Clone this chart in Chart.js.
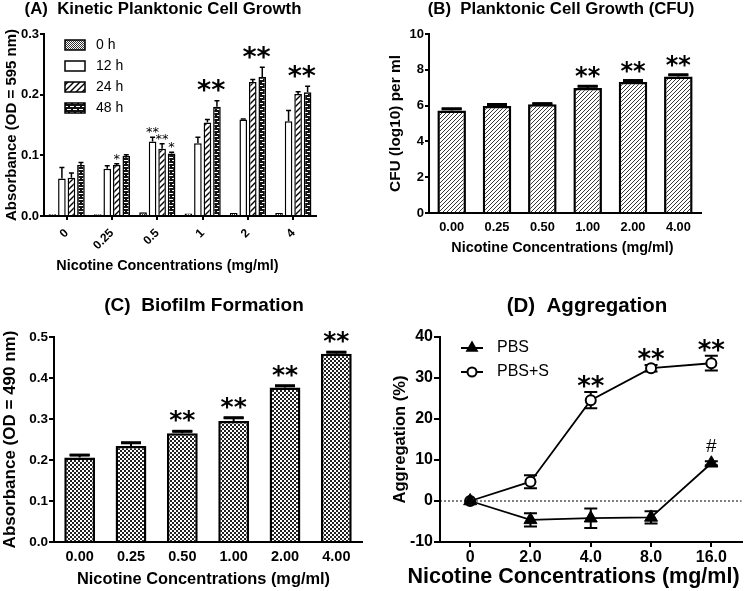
<!DOCTYPE html>
<html><head><meta charset="utf-8">
<script src="https://cdn.jsdelivr.net/npm/chart.js@4"></script>
<style>
html,body{margin:0;padding:0;background:#fff;}
#wrap{position:relative;width:750px;height:591px;background:#fff;overflow:hidden;}
canvas{position:absolute;}
</style></head><body>
<div id="wrap">
<canvas id="cA" width="375" height="290" style="left:0;top:0"></canvas>
<canvas id="cB" width="375" height="290" style="left:375px;top:0"></canvas>
<canvas id="cC" width="375" height="301" style="left:0;top:290px"></canvas>
<canvas id="cD" width="375" height="301" style="left:375px;top:290px"></canvas>
</div>
<script>
// ---------------- DATA ----------------
// (A) Kinetic planktonic cell growth
const concA = ['0', '0.25', '0.5', '1', '2', '4'];
const timeLabels = ['0 h', '12 h', '24 h', '48 h'];
const a0h  = [0.003, 0.003, 0.006, 0.004, 0.005, 0.005];
const a12h = [0.062, 0.078, 0.123, 0.120, 0.159, 0.156];
const a24h = [0.063, 0.084, 0.111, 0.154, 0.221, 0.201];
const a48h = [0.084, 0.099, 0.103, 0.180, 0.229, 0.204];
const a0hErr  = [0, 0, 0, 0, 0, 0];
const a12hErr = [0.018, 0.005, 0.007, 0.010, 0.001, 0.018];
const a24hErr = [0.008, 0.002, 0.008, 0.005, 0.004, 0.004];
const a48hErr = [0.004, 0.002, 0.002, 0.010, 0.016, 0.010];
const yTicksA = [0, 0.1, 0.2, 0.3];
// significance marks: category index, dataset indices, text, style
const sigA = [
  {cat: 1, ds: [2], text: '*', style: 'small'},
  {cat: 2, ds: [1], text: '**', style: 'small'},
  {cat: 2, ds: [2], text: '**', style: 'small'},
  {cat: 2, ds: [3], text: '*', style: 'small'},
  {cat: 3, ds: [2, 3], text: '**', style: 'big'},
  {cat: 4, ds: [2, 3], text: '**', style: 'big'},
  {cat: 5, ds: [2, 3], text: '**', style: 'big'}
];

// (B) Planktonic cell growth (CFU)
const concB = ['0.00', '0.25', '0.50', '1.00', '2.00', '4.00'];
const cfu    = [5.72, 5.98, 6.07, 6.98, 7.32, 7.62];
const cfuErr = [0.10, 0.08, 0.04, 0.10, 0.08, 0.10];
const yTicksB = [0, 2, 4, 6, 8, 10];
const sigB = [
  {cat: 3, ds: [0], text: '**', style: 'big'},
  {cat: 4, ds: [0], text: '**', style: 'big'},
  {cat: 5, ds: [0], text: '**', style: 'big'}
];

// (C) Biofilm formation
const concC = ['0.00', '0.25', '0.50', '1.00', '2.00', '4.00'];
const biofilm    = [0.206, 0.234, 0.265, 0.295, 0.377, 0.459];
const biofilmErr = [0.006, 0.008, 0.005, 0.008, 0.004, 0.004];
const yTicksC = [0, 0.1, 0.2, 0.3, 0.4, 0.5];
const sigC = [
  {cat: 2, ds: [0], text: '**', style: 'big'},
  {cat: 3, ds: [0], text: '**', style: 'big'},
  {cat: 4, ds: [0], text: '**', style: 'big'},
  {cat: 5, ds: [0], text: '**', style: 'big'}
];

// (D) Aggregation
const concD = ['0', '2.0', '4.0', '8.0', '16.0'];
const seriesD = ['PBS', 'PBS+S'];
const pbs     = [0, -4.6, -4.2, -4.0, 9.2];
const pbsErr  = [0, 1.6, 2.4, 1.5, 0.5];
const pbsS    = [0, 4.7, 24.6, 32.4, 33.6];
const pbsSErr = [0, 1.6, 2.0, 0.8, 1.8];
const yTicksD = [-10, 0, 10, 20, 30, 40];
const sigD = [
  {cat: 2, ds: [1], text: '**', style: 'big'},
  {cat: 3, ds: [1], text: '**', style: 'big'},
  {cat: 4, ds: [1], text: '**', style: 'big'},
  {cat: 4, ds: [0], text: '#', style: 'hash'}
];

// ---------------- STYLE HELPERS ----------------
const FF = "'Liberation Sans', Arial, Helvetica, sans-serif";
const SF = "'DejaVu Sans', 'Liberation Sans', sans-serif";
Chart.defaults.font.family = FF;
Chart.defaults.color = '#000';
Chart.defaults.animation = false;

function pat(w, h, draw) {
  const c = document.createElement('canvas'); c.width = w; c.height = h;
  const g = c.getContext('2d'); draw(g, w, h);
  return g.createPattern(c, 'repeat');
}
function hatch(s, lw, col) {
  return pat(s, s, g => {
    g.fillStyle = '#fff'; g.fillRect(0, 0, s, s);
    g.strokeStyle = col || '#000'; g.lineWidth = lw; g.beginPath();
    g.moveTo(-1, s + 1); g.lineTo(s + 1, -1);
    g.moveTo(-s / 2 - 1, s / 2 + 1); g.lineTo(s / 2 + 1, -s / 2 - 1);
    g.moveTo(s / 2 - 1, s * 1.5 + 1); g.lineTo(s * 1.5 + 1, s / 2 - 1);
    g.stroke();
  });
}
function checker(c, col) {
  return pat(2 * c, 2 * c, g => {
    g.fillStyle = '#fff'; g.fillRect(0, 0, 2 * c, 2 * c);
    g.fillStyle = col; g.fillRect(0, 0, c, c); g.fillRect(c, c, c, c);
  });
}
function brick() {
  return pat(6, 6, g => {
    g.fillStyle = '#111'; g.fillRect(0, 0, 6, 6);
    g.fillStyle = '#fff';
    g.fillRect(1, 1, 4, 1);
    g.fillRect(4, 4, 2, 1); g.fillRect(0, 4, 2, 1);
  });
}

function axisBase(tl) {
  return {
    grid: {display: true, drawOnChartArea: false, drawTicks: tl > 0, tickLength: tl, color: '#000', lineWidth: 2, offset: false},
    border: {display: true, color: '#000', width: 2}
  };
}
function fixedTicks(arr) { return s => { s.ticks = arr.map(v => ({value: v})); }; }

// ---------------- PLUGINS ----------------
function errorBars(o) {
  const fn = function (chart) {
    const ctx = chart.ctx, ys = chart.scales.y;
    chart.data.datasets.forEach((ds, di) => {
      if (!ds.errors) return;
      chart.getDatasetMeta(di).data.forEach((el, i) => {
        const v = ds.data[i], e = ds.errors[i];
        if (!e) return;
        const x = el.x, yv = ys.getPixelForValue(v), yt = ys.getPixelForValue(v + e), yb = ys.getPixelForValue(v - e);
        ctx.save(); ctx.strokeStyle = '#000'; ctx.lineWidth = o.lw; ctx.beginPath();
        if (o.both) {
          ctx.moveTo(x, yb); ctx.lineTo(x, yt);
          ctx.moveTo(x - o.cap / 2, yb); ctx.lineTo(x + o.cap / 2, yb);
        } else {
          ctx.moveTo(x, yv); ctx.lineTo(x, yt);
        }
        ctx.moveTo(x - o.cap / 2, yt); ctx.lineTo(x + o.cap / 2, yt);
        ctx.stroke();
        if (o.capW) {
          ctx.beginPath(); ctx.lineWidth = o.capW;
          ctx.moveTo(x - o.cap / 2, yt); ctx.lineTo(x + o.cap / 2, yt); ctx.stroke();
        }
        ctx.restore();
      });
    });
  };
  return o.behind ? {id: 'errbars', beforeDatasetsDraw: fn} : {id: 'errbars', afterDatasetsDraw: fn};
}
function sigMarks(list, styles) {
  return {id: 'sig', afterDatasetsDraw(chart) {
    const ctx = chart.ctx, ys = chart.scales.y;
    list.forEach(m => {
      const st = styles[m.style];
      let xs = 0, top = -Infinity;
      m.ds.forEach(d => {
        const ds = chart.data.datasets[d];
        const el = chart.getDatasetMeta(d).data[m.cat];
        xs += el.x;
        const e = ds.errors ? ds.errors[m.cat] : 0;
        top = Math.max(top, ds.data[m.cat] + e);
      });
      const x = xs / m.ds.length + (st.dx || 0);
      const cy = ys.getPixelForValue(top) - st.gap;
      ctx.save(); ctx.font = st.font; ctx.fillStyle = '#000';
      ctx.textAlign = 'center'; ctx.textBaseline = 'alphabetic';
      const mt = ctx.measureText(m.text);
      ctx.fillText(m.text, x, cy + (mt.actualBoundingBoxAscent - mt.actualBoundingBoxDescent) / 2);
      ctx.restore();
    });
  }};
}
function texts(items) {
  return {id: 'texts', afterDraw(chart) {
    const ctx = chart.ctx;
    items.forEach(t => {
      ctx.save(); ctx.font = t.font; ctx.fillStyle = '#000';
      ctx.textAlign = 'center'; ctx.textBaseline = 'middle';
      ctx.fillText(t.text, t.x, t.y);
      ctx.restore();
    });
  }};
}
function legendBoxes(o) {
  return {id: 'legBoxes', afterDraw(chart) {
    const ctx = chart.ctx, ca = chart.chartArea;
    chart.data.datasets.forEach((ds, i) => {
      const y = ca.top + o.dy + i * o.step, x = ca.left + o.dx;
      ctx.save();
      ctx.fillStyle = ds.backgroundColor; ctx.fillRect(x, y - o.h / 2, o.w, o.h);
      ctx.strokeStyle = '#000'; ctx.lineWidth = 1.5; ctx.strokeRect(x, y - o.h / 2, o.w, o.h);
      ctx.font = o.font; ctx.fillStyle = '#000'; ctx.textAlign = 'left'; ctx.textBaseline = 'middle';
      ctx.fillText(ds.label, x + o.w + o.gap, y);
      ctx.restore();
    });
  }};
}
function legendLines(o) {
  return {id: 'legLines', afterDraw(chart) {
    const ctx = chart.ctx, ca = chart.chartArea;
    chart.data.datasets.forEach((ds, i) => {
      const y = ca.top + o.dy + i * o.step, x = ca.left + o.dx, xm = x + o.len / 2;
      ctx.save();
      ctx.strokeStyle = '#000'; ctx.lineWidth = 2;
      ctx.beginPath(); ctx.moveTo(x, y); ctx.lineTo(x + o.len, y); ctx.stroke();
      if (ds.pointStyle === 'triangle') {
        const r = ds.pointRadius;
        ctx.fillStyle = '#000'; ctx.beginPath();
        ctx.moveTo(xm, y - r); ctx.lineTo(xm + r * 0.866, y + r / 2); ctx.lineTo(xm - r * 0.866, y + r / 2);
        ctx.closePath(); ctx.fill();
      } else {
        ctx.fillStyle = '#fff'; ctx.lineWidth = ds.pointBorderWidth;
        ctx.beginPath(); ctx.arc(xm, y, ds.pointRadius - 0.5, 0, Math.PI * 2); ctx.fill(); ctx.stroke();
      }
      ctx.font = o.font; ctx.fillStyle = '#000'; ctx.textAlign = 'left'; ctx.textBaseline = 'middle';
      ctx.fillText(ds.label, x + o.len + o.gap, y);
      ctx.restore();
    });
  }};
}
const zeroLine = {id: 'zeroLine', beforeDatasetsDraw(chart) {
  const ctx = chart.ctx, ca = chart.chartArea, y = chart.scales.y.getPixelForValue(0);
  ctx.save(); ctx.strokeStyle = '#000'; ctx.lineWidth = 1; ctx.setLineDash([2, 2]);
  ctx.beginPath(); ctx.moveTo(ca.left, y); ctx.lineTo(ca.right, y); ctx.stroke(); ctx.restore();
}};

const baseOpts = {responsive: false, animation: false, events: [],
  plugins: {legend: {display: false}, tooltip: {enabled: false}, title: {display: false}}};
const bold = s => ({size: s, weight: 'bold', family: FF});

// ---------------- CHART A ----------------
new Chart(document.getElementById('cA'), {
  type: 'bar',
  data: {labels: concA, datasets: [
    {label: timeLabels[0], data: a0h, errors: a0hErr, backgroundColor: checker(1, '#333')},
    {label: timeLabels[1], data: a12h, errors: a12hErr, backgroundColor: '#fff'},
    {label: timeLabels[2], data: a24h, errors: a24hErr, backgroundColor: hatch(6, 1.4)},
    {label: timeLabels[3], data: a48h, errors: a48hErr, backgroundColor: brick()}
  ].map(d => Object.assign(d, {borderColor: '#000', borderWidth: 1.5, categoryPercentage: 0.84, barPercentage: 0.8}))},
  options: Object.assign({}, baseOpts, {
    layout: {padding: {left: 0, top: 34, right: 59, bottom: 0}},
    scales: {
      x: Object.assign(axisBase(4), {type: 'category', offset: true,
        ticks: {autoSkip: false, minRotation: 45, maxRotation: 45, padding: 6, font: bold(12)},
        afterFit: s => { s.height = 74; }}),
      y: Object.assign(axisBase(4), {min: yTicksA[0], max: yTicksA[yTicksA.length - 1],
        afterBuildTicks: fixedTicks(yTicksA),
        ticks: {callback: v => v.toFixed(1), padding: 1, font: bold(13)},
        title: {display: true, text: 'Absorbance (OD = 595 nm)', font: bold(15), padding: {top: 3, bottom: 0}},
        afterFit: s => { s.width = 44; }})
    }
  }),
  plugins: [
    errorBars({lw: 1.5, cap: 5}),
    sigMarks(sigA, {small: {font: '13px ' + SF, gap: 7}, big: {font: 'bold 27px ' + SF, gap: 15, dx: -1}}),
    legendBoxes({dx: 21, dy: 11, step: 21, w: 20, h: 10, gap: 11, font: '14px ' + FF}),
    texts([
      {text: '(A)  Kinetic Planktonic Cell Growth', x: 163, y: 9, font: 'bold 16.8px ' + FF},
      {text: 'Nicotine Concentrations (mg/ml)', x: 167.5, y: 266, font: 'bold 14.4px ' + FF}
    ])
  ]
});

// ---------------- CHART B ----------------
new Chart(document.getElementById('cB'), {
  type: 'bar',
  data: {labels: concB, datasets: [
    {label: 'CFU', data: cfu, errors: cfuErr, backgroundColor: hatch(4, 0.9, '#222'), borderColor: '#000', borderWidth: 2.5, categoryPercentage: 1, barPercentage: 0.63}
  ]},
  options: Object.assign({}, baseOpts, {
    layout: {padding: {left: 0, top: 34, right: 49, bottom: 0}},
    scales: {
      x: Object.assign(axisBase(0), {type: 'category', offset: true,
        ticks: {autoSkip: false, maxRotation: 0, padding: 7, font: bold(12.8)},
        afterFit: s => { s.height = 77; }}),
      y: Object.assign(axisBase(4), {min: yTicksB[0], max: yTicksB[yTicksB.length - 1],
        afterBuildTicks: fixedTicks(yTicksB),
        ticks: {padding: 1, font: bold(13)},
        title: {display: true, text: 'CFU (log10) per ml', font: bold(15.4), padding: {top: 12, bottom: 0}},
        afterFit: s => { s.width = 54; }})
    }
  }),
  plugins: [
    errorBars({lw: 2, cap: 20, capW: 3}),
    sigMarks(sigB, {big: {font: 'bold 24px ' + SF, gap: 14}}),
    texts([
      {text: '(B)  Planktonic Cell Growth (CFU)', x: 186, y: 9, font: 'bold 16.8px ' + FF},
      {text: 'Nicotine Concentrations (mg/ml)', x: 187.5, y: 248, font: 'bold 14.4px ' + FF}
    ])
  ]
});

// ---------------- CHART C ----------------
new Chart(document.getElementById('cC'), {
  type: 'bar',
  data: {labels: concC, datasets: [
    {label: 'Biofilm', data: biofilm, errors: biofilmErr, backgroundColor: checker(2, '#222'), borderColor: '#000', borderWidth: 2.5, categoryPercentage: 1, barPercentage: 0.6}
  ]},
  options: Object.assign({}, baseOpts, {
    layout: {padding: {left: 0, top: 47, right: 13, bottom: 0}},
    scales: {
      x: Object.assign(axisBase(0), {type: 'category', offset: true,
        ticks: {autoSkip: false, maxRotation: 0, padding: 6, font: bold(14.5)},
        afterFit: s => { s.height = 49; }}),
      y: Object.assign(axisBase(5), {min: yTicksC[0], max: yTicksC[yTicksC.length - 1],
        afterBuildTicks: fixedTicks(yTicksC),
        ticks: {callback: v => v.toFixed(1), padding: 1, font: bold(13.5)},
        title: {display: true, text: 'Absorbance (OD = 490 nm)', font: bold(17), padding: {top: 0, bottom: 0}},
        afterFit: s => { s.width = 54; }})
    }
  }),
  plugins: [
    errorBars({lw: 2, cap: 20, capW: 3}),
    sigMarks(sigC, {big: {font: 'bold 25px ' + SF, gap: 15}}),
    texts([
      {text: '(C)  Biofilm Formation', x: 204, y: 16, font: 'bold 19px ' + FF},
      {text: 'Nicotine Concentrations (mg/ml)', x: 203.5, y: 289, font: 'bold 16.4px ' + FF}
    ])
  ]
});

// ---------------- CHART D ----------------
new Chart(document.getElementById('cD'), {
  type: 'line',
  data: {labels: concD, datasets: [
    {label: seriesD[0], data: pbs, errors: pbsErr, borderColor: '#000', borderWidth: 1.8, tension: 0, fill: false,
      pointStyle: 'triangle', pointRadius: 7.5, pointBackgroundColor: '#000', pointBorderColor: '#000', pointBorderWidth: 1},
    {label: seriesD[1], data: pbsS, errors: pbsSErr, borderColor: '#000', borderWidth: 1.8, tension: 0, fill: false,
      pointStyle: 'circle', pointRadius: 5, pointBackgroundColor: '#fff', pointBorderColor: '#000', pointBorderWidth: 2}
  ]},
  options: Object.assign({}, baseOpts, {
    layout: {padding: {left: 0, top: 47, right: 2, bottom: 0}},
    scales: {
      x: Object.assign(axisBase(5), {type: 'category', offset: true,
        ticks: {autoSkip: false, maxRotation: 0, padding: 1, font: bold(16)},
        afterFit: s => { s.height = 49; }}),
      y: Object.assign(axisBase(6), {min: yTicksD[0], max: yTicksD[yTicksD.length - 1],
        afterBuildTicks: fixedTicks(yTicksD),
        ticks: {padding: 1, font: bold(16)},
        title: {display: true, text: 'Aggregation (%)', font: bold(16.6), padding: {top: 15, bottom: 0}},
        afterFit: s => { s.width = 65; }})
    }
  }),
  plugins: [
    zeroLine,
    errorBars({lw: 2, cap: 13, both: true, behind: true}),
    sigMarks(sigD, {big: {font: 'bold 26px ' + SF, gap: 10}, hash: {font: '19px ' + FF, gap: 16}}),
    legendLines({dx: 21, dy: 11, step: 24, len: 22, gap: 14, font: '16px ' + FF}),
    texts([
      {text: '(D)  Aggregation', x: 212, y: 16, font: 'bold 20.5px ' + FF},
      {text: 'Nicotine Concentrations (mg/ml)', x: 198.5, y: 287, font: 'bold 21.5px ' + FF}
    ])
  ]
});
</script>
</body></html>
